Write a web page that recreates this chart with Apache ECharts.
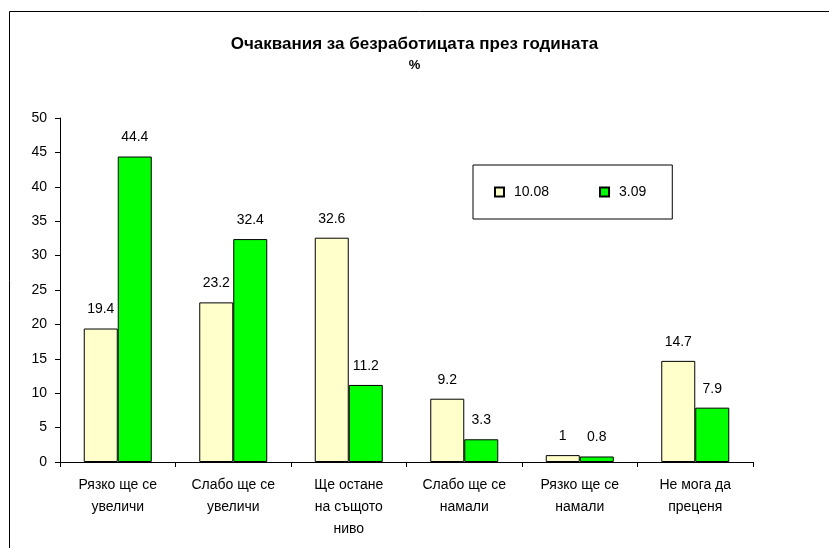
<!DOCTYPE html>
<html>
<head>
<meta charset="utf-8">
<script src="https://cdn.jsdelivr.net/npm/echarts@6/dist/echarts.min.js"></script>
<style>
html, body { margin: 0; padding: 0; background: #fff; }
#charts { width: 829px; height: 548px; }
</style>
</head>
<body>
<div id="charts"></div>
<script>
var categories = ["Рязко ще се\nувеличи", "Слабо ще се\nувеличи", "Ще остане\nна същото\nниво", "Слабо ще се\nнамали", "Рязко ще се\nнамали", "Не мога да\nпреценя"];
var seriesNames = ["10.08", "3.09"];
var values1008 = [19.4, 23.2, 32.6, 9.2, 1, 14.7];
var values309 = [44.4, 32.4, 11.2, 3.3, 0.8, 7.9];
var yTicks = { min: 0, max: 50, interval: 5 };

var font = "'Liberation Sans', Arial, sans-serif";
var chart = echarts.init(document.getElementById("charts"));

var option = {
	animation: false,
	backgroundColor: "#fff",
	textStyle: { fontFamily: font },
	graphic: {
		elements: [{
			type: "rect",
			left: 7,
			top: 9,
			shape: { width: 822, height: 539 },
			style: { fill: "none", stroke: "#000", lineWidth: 1 }
		}]
	},
	title: {
		text: "Очаквания за безработицата през годината",
		subtext: "%",
		left: "center",
		top: 31,
		itemGap: 6,
		textStyle: { fontSize: 17, fontWeight: "bold", color: "#000", fontFamily: font },
		subtextStyle: { fontSize: 13, fontWeight: "bold", color: "#000", fontFamily: font }
	},
	legend: {
		data: seriesNames,
		left: 473,
		top: 165,
		orient: "horizontal",
		icon: "rect",
		itemWidth: 9,
		itemHeight: 9,
		itemGap: 50,
		padding: [20, 26, 20, 21],
		borderColor: "#000",
		borderWidth: 1,
		textStyle: { fontSize: 14, color: "#000", fontFamily: font, padding: [0, 0, 0, 5] }
	},
	grid: { left: 60, top: 118, right: 76, bottom: 86 },
	xAxis: {
		type: "category",
		data: categories,
		axisLine: { lineStyle: { color: "#000" } },
		axisTick: { show: true, length: 5, lineStyle: { color: "#000" } },
		axisLabel: { color: "#000", fontSize: 14, lineHeight: 22, margin: 12, interval: 0, fontFamily: font }
	},
	yAxis: {
		type: "value",
		min: yTicks.min,
		max: yTicks.max,
		interval: yTicks.interval,
		axisLine: { show: true, lineStyle: { color: "#000" } },
		axisTick: { show: true, length: 5, lineStyle: { color: "#000" } },
		splitLine: { show: false },
		axisLabel: { color: "#000", fontSize: 14, margin: 13, fontFamily: font }
	},
	series: [{
		name: seriesNames[0],
		type: "bar",
		data: values1008,
		barWidth: 34,
		barGap: "0%",
		itemStyle: { color: "#FFFFCC", borderColor: "#000", borderWidth: 1 },
		label: { show: true, position: "top", distance: 12, color: "#000", fontSize: 14, fontFamily: font }
	}, {
		name: seriesNames[1],
		type: "bar",
		data: values309,
		barWidth: 34,
		barGap: "0%",
		itemStyle: { color: "#00FF00", borderColor: "#000", borderWidth: 1 },
		label: { show: true, position: "top", distance: 12, color: "#000", fontSize: 14, fontFamily: font }
	}]
};
chart.setOption(option);
</script>
</body>
</html>
